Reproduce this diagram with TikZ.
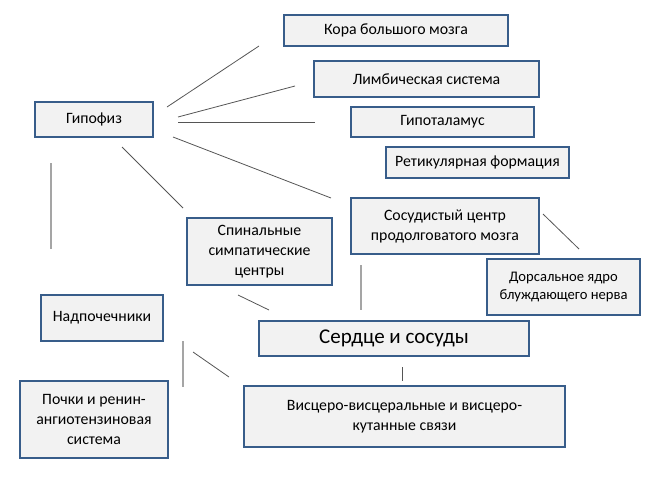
\documentclass[tikz,border=0pt]{standalone}
\usepackage{fontspec}
\setmainfont{Carlito}

\definecolor{bordo}{RGB}{56,93,138}
\definecolor{sfondo}{RGB}{242,242,242}
\definecolor{linea}{RGB}{85,85,85}
\definecolor{lineachiara}{RGB}{165,165,165}

\tikzset{
  blocco/.style={draw=bordo, fill=sfondo, line width=1.3pt, align=center,
    inner sep=2pt, font=\fontsize{15.8}{20}\selectfont},
  legame/.style={draw=linea, line width=0.8pt},
  legamechiaro/.style={draw=lineachiara, line width=1.2pt}
}

\begin{document}
\begin{tikzpicture}[x=1pt, y=-1pt]

  % Cornice della figura
  \useasboundingbox (0,0) rectangle (650,488);

  % Blocchi a destra in alto
  \node[blocco, minimum width=224pt, minimum height=31pt] (kora) at (396,30.5) {Кора большого мозга};
  \node[blocco, minimum width=225pt, minimum height=36pt] (limb) at (426.5,79) {Лимбическая система};
  \node[blocco, minimum width=183pt, minimum height=30pt] (gipot) at (442.5,122) {Гипоталамус};
  \node[blocco, minimum width=183pt, minimum height=31pt] (retik) at (477.5,162.5) {Ретикулярная формация};
  \node[blocco, minimum width=188pt, minimum height=56pt] (sosud) at (445,226) {Сосудистый центр\\продолговатого мозга};
  \node[blocco, minimum width=153pt, minimum height=56pt, font=\fontsize{14.6}{18}\selectfont] (dors) at (563.5,287) {Дорсальное ядро\\блуждающего нерва};

  % Blocchi a sinistra
  \node[blocco, minimum width=118pt, minimum height=35pt] (gipof) at (94,119.5) {Гипофиз};
  \node[blocco, minimum width=145pt, minimum height=67pt] (spin) at (259.5,251.5) {Спинальные\\симпатические\\центры};
  \node[blocco, minimum width=122pt, minimum height=46pt] (nadp) at (102,318) {Надпочечники};
  \node[blocco, minimum width=148pt, minimum height=77pt] (pochki) at (94,419.5) {Почки и ренин-\\ангиотензиновая\\система};

  % Blocchi centrali in basso
  \node[blocco, minimum width=270pt, minimum height=35pt, font=\fontsize{21}{24}\selectfont] (serdce) at (394,338.5) {Сердце и сосуды};
  \node[blocco, minimum width=321pt, minimum height=61pt] (visc) at (404.5,416.5) {Висцеро-висцеральные и висцеро-\\кутанные связи};

  % Estremi dei legami
  \coordinate (g1) at (167,107);  \coordinate (k1) at (259,46);
  \coordinate (g2) at (178,117);  \coordinate (l1) at (295,86);
  \coordinate (g3) at (178,122);  \coordinate (h1) at (315,122);
  \coordinate (g4) at (173,137);  \coordinate (s1) at (331,198);
  \coordinate (g5) at (122,147);  \coordinate (p1) at (183,208);
  \coordinate (g6) at (51,163);   \coordinate (n1) at (51,249);
  \coordinate (p2) at (238,295);  \coordinate (c1) at (269,310);
  \coordinate (n2) at (183,341);  \coordinate (r1) at (183,387);
  \coordinate (n3) at (193,352);  \coordinate (v1) at (229,377);
  \coordinate (s2) at (361,265);  \coordinate (c2) at (361,310);
  \coordinate (c3) at (402,367);  \coordinate (v2) at (402,381);
  \coordinate (s3) at (543,214);  \coordinate (d1) at (579,249);

  % Legami
  \draw[legame] (g1) -- (k1);
  \draw[legame] (g2) -- (l1);
  \draw[legame] (g3) -- (h1);
  \draw[legame] (g4) -- (s1);
  \draw[legame] (g5) -- (p1);
  \draw[legamechiaro] (g6) -- (n1);
  \draw[legame] (p2) -- (c1);
  \draw[legamechiaro] (n2) -- (r1);
  \draw[legame] (n3) -- (v1);
  \draw[legamechiaro] (s2) -- (c2);
  \draw[legame] (c3) -- (v2);
  \draw[legame] (s3) -- (d1);

\end{tikzpicture}
\end{document}
